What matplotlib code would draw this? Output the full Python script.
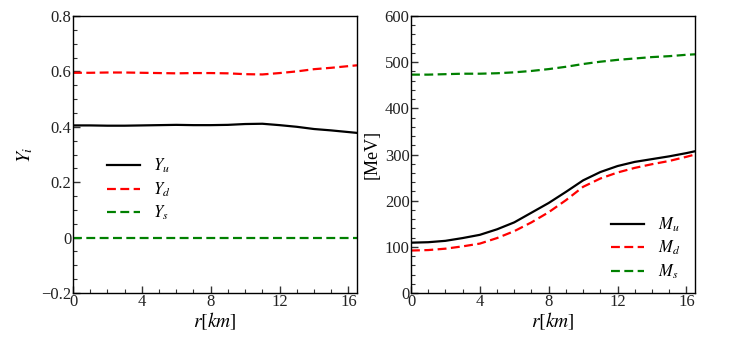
import matplotlib
matplotlib.use("Agg")
import matplotlib.pyplot as plt
from matplotlib.ticker import MultipleLocator, FuncFormatter

plt.rcParams['font.family'] = ['Liberation Serif', 'DejaVu Serif']
plt.rcParams['mathtext.fontset'] = 'stix'

r = [0, 1, 2, 3, 4, 5, 6, 7, 8, 9, 10, 11, 12, 13, 14, 15, 16, 16.5]
Y_u = [0.405, 0.405, 0.404, 0.404, 0.405, 0.406, 0.407, 0.406, 0.406, 0.407, 0.410, 0.411, 0.406, 0.400, 0.392, 0.387, 0.381, 0.378]
Y_d = [0.595, 0.595, 0.596, 0.596, 0.595, 0.594, 0.593, 0.594, 0.594, 0.593, 0.590, 0.589, 0.594, 0.600, 0.608, 0.613, 0.619, 0.622]
Y_s = [0.0] * len(r)

M_u = [109, 110, 113, 119, 126, 138, 153, 174, 195, 219, 244, 262, 275, 284, 290, 296, 303, 307]
M_d = [92, 93, 96, 101, 107, 119, 134, 153, 175, 201, 230, 248, 261, 271, 279, 286, 295, 300]
M_s = [473, 473, 474, 475, 475, 476, 478, 481, 485, 490, 496, 501, 505, 508, 511, 513, 516, 517]

fig = plt.figure(figsize=(7.31, 3.37), dpi=100)
ax1 = fig.add_axes([73/731, 1-293/337, 284/731, 277/337])
ax2 = fig.add_axes([411/731, 1-293/337, 284/731, 277/337])

dash = (0, (4, 2))
lw = 1.6

ax1.plot(r, Y_u, color='black', lw=lw, label=r'$Y_u$')
ax1.plot(r, Y_d, color='red', lw=lw, ls=dash, label=r'$Y_d$')
ax1.plot(r, Y_s, color='green', lw=lw, ls=dash, label=r'$Y_s$')
ax1.set_ylim(-0.2, 0.8)
ax1.yaxis.set_major_locator(MultipleLocator(0.2))
ax1.yaxis.set_minor_locator(MultipleLocator(0.05))
ax1.yaxis.set_major_formatter(FuncFormatter(lambda v, p: '0' if abs(v) < 1e-9 else ('\u2212%.1f' % abs(v) if v < 0 else '%.1f' % v)))
ax1.set_ylabel(r'$Y_i$', fontsize=14, labelpad=5)
ax1.legend(loc='upper left', bbox_to_anchor=(0.066, 0.545), frameon=False, fontsize=12,
           handlelength=2.0, handletextpad=0.8, labelspacing=0.3)

ax2.plot(r, M_u, color='black', lw=lw, label=r'$M_u$')
ax2.plot(r, M_d, color='red', lw=lw, ls=dash, label=r'$M_d$')
ax2.plot(r, M_s, color='green', lw=lw, ls=dash, label=r'$M_s$')
ax2.set_ylim(0, 600)
ax2.yaxis.set_major_locator(MultipleLocator(100))
ax2.yaxis.set_minor_locator(MultipleLocator(20))
ax2.set_ylabel('[MeV]', fontsize=13, labelpad=3)
ax2.legend(loc='lower right', bbox_to_anchor=(1.0, -0.01), frameon=False, fontsize=12,
           handlelength=2.0, handletextpad=0.8, labelspacing=0.3)

for ax in (ax1, ax2):
    ax.set_xlim(0, 16.5)
    ax.xaxis.set_major_locator(MultipleLocator(4))
    ax.xaxis.set_minor_locator(MultipleLocator(1))
    ax.set_xlabel(r'$r[km]$', fontsize=14, labelpad=0)
    ax.tick_params(which='both', direction='in', top=False, right=False, labelsize=12,
                   colors='#333333', labelcolor='#222222', pad=1)
    ax.tick_params(which='major', length=5, width=1)
    ax.tick_params(which='minor', length=3, width=0.8)
    for s in ax.spines.values():
        s.set_linewidth(1.0)

fig.savefig('out.png', dpi=100)
